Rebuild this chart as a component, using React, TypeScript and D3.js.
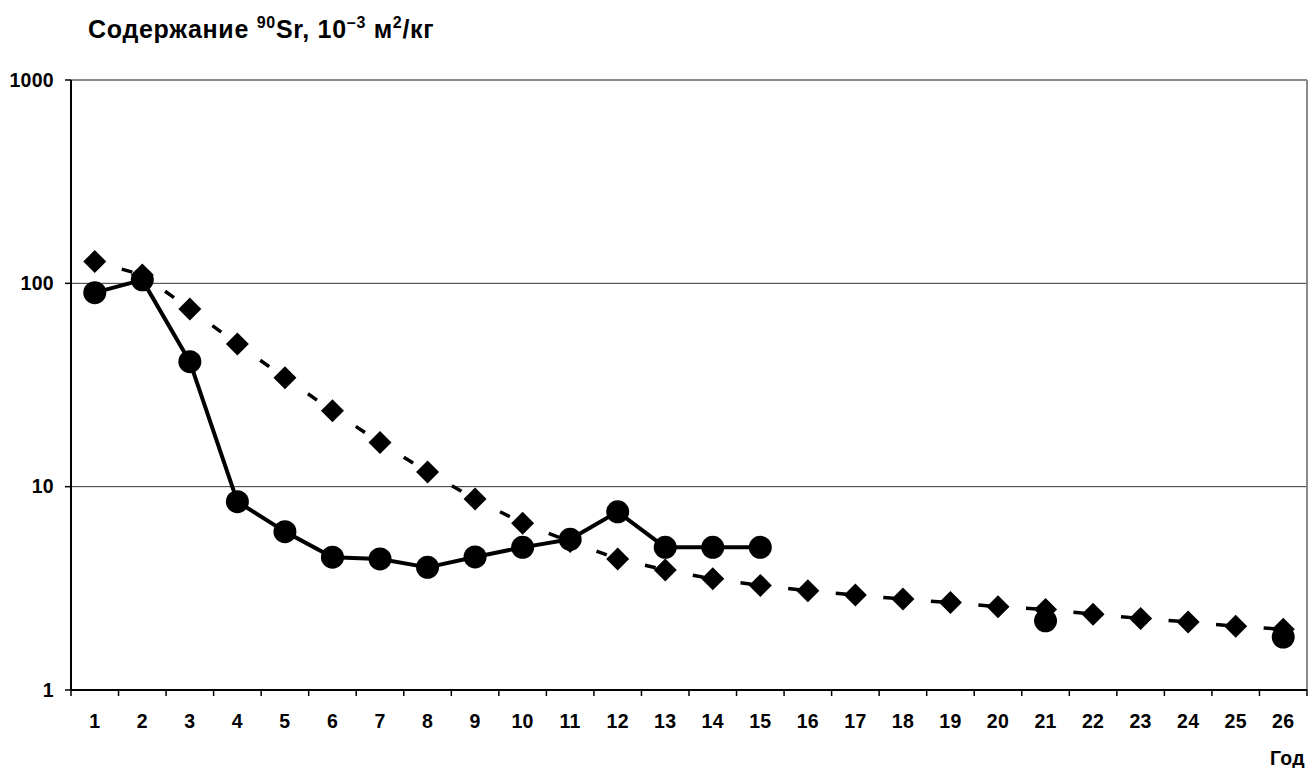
import React from "react";
import * as d3 from "d3";

const years = d3.range(1, 27).map(String);
const modelValues = [128, 110, 74.8, 50.3, 34.3, 23.6, 16.5, 11.8, 8.7, 6.61, 5.37, 4.41, 3.89, 3.52, 3.27, 3.08, 2.93, 2.8, 2.69, 2.57, 2.49, 2.36, 2.25, 2.16, 2.06, 1.99];
const measuredValues: (number | null)[] = [90, 104, 41.2, 8.44, 6.01, 4.5, 4.41, 4.01, 4.51, 5.03, 5.51, 7.52, 5.03, 5.03, 5.03, null, null, null, null, null, 2.19, null, null, null, null, 1.82];
const yTicks = [1, 10, 100, 1000];

const W = 1309, H = 768;
const L = 71, R = 1307, T = 80, B = 690;
const FONT = "Liberation Sans, Arial, sans-serif";

export default function App() {
  const x = d3.scaleBand<string>().domain(years).range([L, R]).padding(0);
  const cx = (i: number) => (x(years[i]) as number) + x.bandwidth() / 2;
  const y = d3.scaleLog().domain([1, 1000]).range([B, T]);

  const diamond = (r: number) => `M0,${-r}L${r},0L0,${r}L${-r},0Z`;

  const modelSegs = modelValues.slice(1).map((v, i) => {
    const x1 = cx(i), y1 = y(modelValues[i]), x2 = cx(i + 1), y2 = y(v);
    return <line key={i} x1={x1} y1={y1} x2={x2} y2={y2} stroke="#000" strokeWidth={3.5} strokeDasharray="0 28 11 1000" />;
  });

  const measuredLine = d3
    .line<number | null>()
    .defined((d) => d != null)
    .x((_, i) => cx(i))
    .y((d) => y(d as number));

  const solidPath = measuredLine(measuredValues.slice(0, 15)) || "";

  const boundaries = d3.range(0, years.length + 1).map((k) => L + k * x.bandwidth());
  const tickFont = { fontSize: 19.5, fontWeight: "bold" as const, letterSpacing: 0.3 };

  return (
    <svg width={W} height={H} style={{ position: "absolute", left: 0, top: 0, background: "#fff" }} fontFamily={FONT}>
      <rect x={0} y={0} width={W} height={H} fill="#fff" />
      <text x={88} y={38} fontSize={25} fontWeight="bold" letterSpacing={0.7}>
        Содержание <tspan fontSize={16} dy={-10}>90</tspan>
        <tspan dy={10}>Sr, 10</tspan>
        <tspan fontSize={16} dy={-10}>–3</tspan>
        <tspan dy={10}> м</tspan>
        <tspan fontSize={16} dy={-10}>2</tspan>
        <tspan dy={10}>/кг</tspan>
      </text>
      {yTicks.slice(1, 3).map((t) => (
        <line key={t} x1={L} x2={R} y1={y(t)} y2={y(t)} stroke="#333" strokeWidth={1} />
      ))}
      <line x1={L} x2={R} y1={T} y2={T} stroke="#8a8a8a" strokeWidth={2} />
      <line x1={R} x2={R} y1={T} y2={B} stroke="#8a8a8a" strokeWidth={2} />
      <line x1={L} x2={L} y1={T} y2={B} stroke="#000" strokeWidth={2} />
      <line x1={L} x2={R} y1={B} y2={B} stroke="#000" strokeWidth={2} />
      {yTicks.map((t) => (
        <g key={t}>
          <line x1={L - 6} x2={L} y1={y(t)} y2={y(t)} stroke="#000" strokeWidth={1.5} />
          <text x={54} y={y(t)} dy="0.35em" textAnchor="end" {...tickFont}>{t}</text>
        </g>
      ))}
      {boundaries.map((bx, k) => (
        <line key={k} x1={bx} x2={bx} y1={B} y2={B + 6} stroke="#000" strokeWidth={1.5} />
      ))}
      {years.map((yr, i) => (
        <text key={yr} x={cx(i)} y={728} textAnchor="middle" {...tickFont}>{yr}</text>
      ))}
      <text x={1305} y={765} textAnchor="end" {...tickFont}>Год</text>
      {modelSegs}
      {modelValues.map((v, i) => (
        <path key={i} d={diamond(11.5)} transform={`translate(${cx(i)},${y(v)})`} fill="#000" />
      ))}
      <path d={solidPath} fill="none" stroke="#000" strokeWidth={4} strokeLinejoin="round" />
      {measuredValues.map((v, i) =>
        v == null ? null : <circle key={i} cx={cx(i)} cy={y(v)} r={11.5} fill="#000" />
      )}
    </svg>
  );
}
